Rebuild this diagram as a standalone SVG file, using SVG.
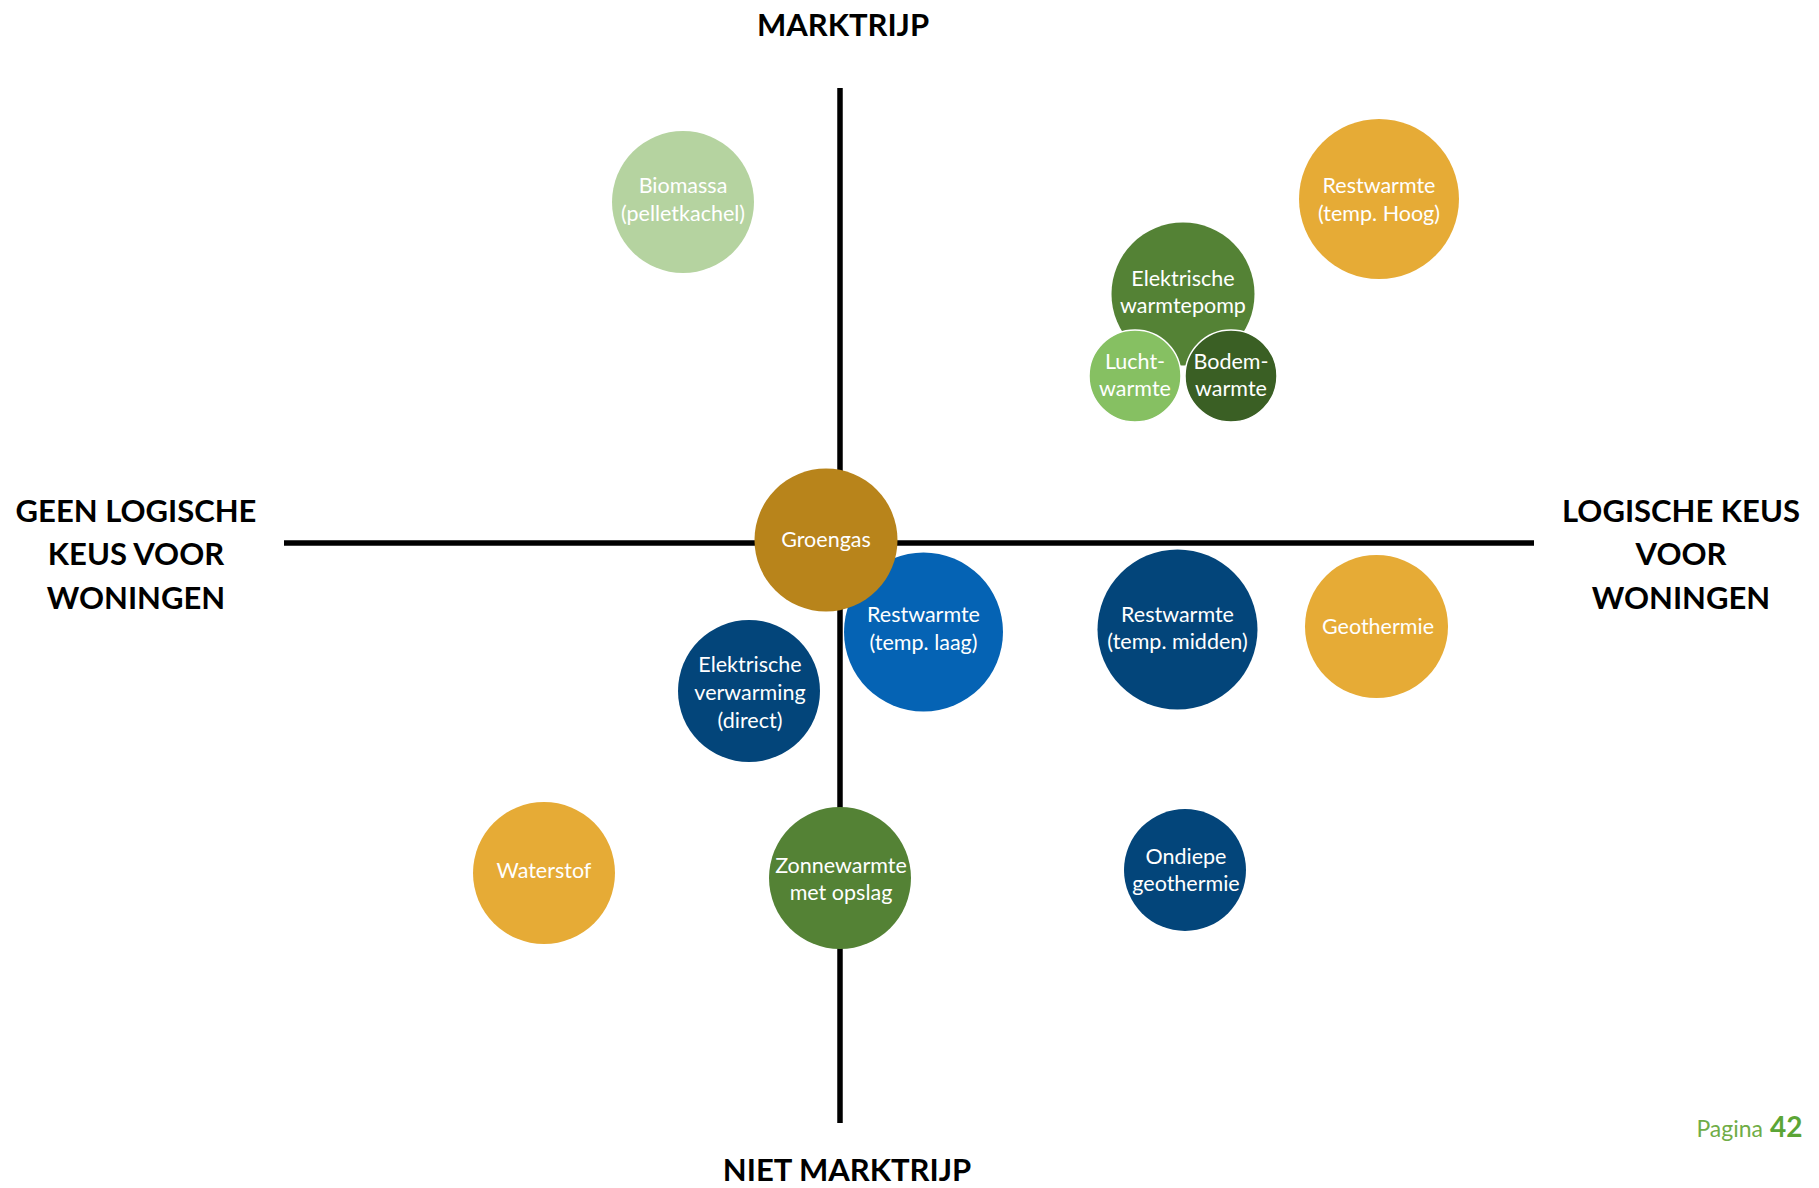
<svg xmlns="http://www.w3.org/2000/svg" width="1819" height="1188" viewBox="0 0 1819 1188">
<style>
.ax{stroke:#000;stroke-width:5.5;fill:none}
.lbl{font-family:Lato,"Open Sans","DejaVu Sans",sans-serif;font-weight:bold;font-size:31px;fill:#000;text-anchor:middle}
.t{font-family:Lato,"Noto Sans","DejaVu Sans",sans-serif;font-size:21.5px;fill:#fff;text-anchor:middle}
.orange{fill:#E6AB36}
.green{fill:#548235}
.dblue{fill:#03457A}
</style>
<rect width="1819" height="1188" fill="#fff"/>
<g id="connectors">
<line class="ax" x1="840" y1="88" x2="840" y2="1123"/>
<line class="ax" x1="284" y1="543" x2="1534" y2="543"/>
</g>
<g id="label-marktrijp"><text class="lbl" x="843" y="36">MARKTRIJP</text></g>
<g id="label-niet-marktrijp"><text class="lbl" x="847" y="1181">NIET MARKTRIJP</text></g>
<g id="label-geen"><text class="lbl" x="136" y="522">GEEN LOGISCHE</text><text class="lbl" x="136" y="565">KEUS VOOR</text><text class="lbl" x="136" y="609">WONINGEN</text></g>
<g id="label-logisch"><text class="lbl" x="1681" y="522">LOGISCHE KEUS</text><text class="lbl" x="1681" y="565">VOOR</text><text class="lbl" x="1681" y="609">WONINGEN</text></g>
<g id="biomassa"><circle cx="683" cy="202" r="71" fill="#B5D3A0"/><text class="t" x="683" y="193">Biomassa</text><text class="t" x="683" y="221">(pelletkachel)</text></g>
<g id="restwarmte-hoog"><circle class="orange" cx="1379" cy="199" r="80"/><text class="t" x="1379" y="193">Restwarmte</text><text class="t" x="1379" y="221">(temp. Hoog)</text></g>
<g id="warmtepomp"><circle class="green" cx="1183" cy="294" r="71.5"/><text class="t" x="1183" y="286">Elektrische</text><text class="t" x="1183" y="313">warmtepomp</text></g>
<g id="luchtwarmte"><circle cx="1135" cy="376" r="46" fill="#86C062" stroke="#fff" stroke-width="1.5"/><text class="t" x="1135" y="369">Lucht-</text><text class="t" x="1135" y="396">warmte</text></g>
<g id="bodemwarmte"><circle cx="1231" cy="376" r="46" fill="#3A5F24" stroke="#fff" stroke-width="1.5"/><text class="t" x="1231" y="369">Bodem-</text><text class="t" x="1231" y="396">warmte</text></g>
<g id="restwarmte-laag"><circle cx="923.5" cy="632" r="79.5" fill="#0563B4"/><text class="t" x="923.5" y="622">Restwarmte</text><text class="t" x="923.5" y="650">(temp. laag)</text></g>
<g id="groengas"><circle cx="826" cy="540" r="71.5" fill="#B8841B"/><text class="t" x="826" y="547">Groengas</text></g>
<g id="restwarmte-midden"><circle class="dblue" cx="1177.5" cy="629.5" r="80"/><text class="t" x="1177.5" y="622">Restwarmte</text><text class="t" x="1177.5" y="649">(temp. midden)</text></g>
<g id="geothermie"><circle class="orange" cx="1376.5" cy="626.5" r="71.5"/><text class="t" x="1378" y="634">Geothermie</text></g>
<g id="elektrische-verwarming"><circle class="dblue" cx="749" cy="691" r="71"/><text class="t" x="750" y="672">Elektrische</text><text class="t" x="750" y="700">verwarming</text><text class="t" x="750" y="728">(direct)</text></g>
<g id="waterstof"><circle class="orange" cx="544" cy="873" r="71"/><text class="t" x="544" y="878">Waterstof</text></g>
<g id="zonnewarmte"><circle class="green" cx="840" cy="878" r="71"/><text class="t" x="841" y="873">Zonnewarmte</text><text class="t" x="841" y="900">met opslag</text></g>
<g id="ondiepe-geothermie"><circle class="dblue" cx="1185" cy="870" r="61"/><text class="t" x="1186" y="864">Ondiepe</text><text class="t" x="1186" y="891">geothermie</text></g>
<g id="pagina"><text x="1763" y="1137" font-family="Lato,'Noto Sans',sans-serif" font-size="23" fill="#70AD47" text-anchor="end">Pagina</text><text x="1770" y="1137" font-family="Lato,'Noto Sans',sans-serif" font-size="28" font-weight="bold" fill="#5BA536">42</text></g>
</svg>
